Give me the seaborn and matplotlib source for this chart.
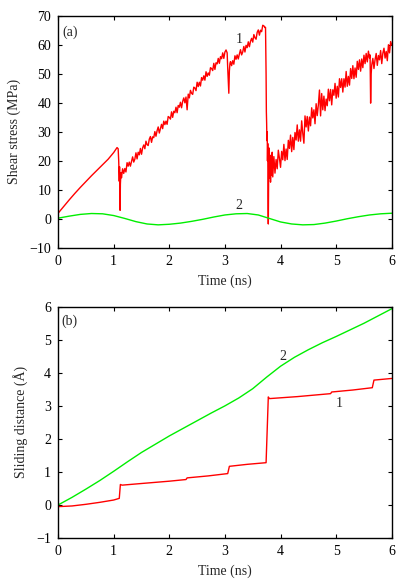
import matplotlib
matplotlib.use('Agg')
import matplotlib.pyplot as plt
import seaborn as sns
import numpy as np
import pandas as pd

# ---- panel (a): shear stress, curve 1 (piecewise) ----
stress_t_smooth = [0.0, 0.1, 0.2, 0.3, 0.4, 0.5, 0.6, 0.7, 0.8, 0.9, 1.0, 1.06, 1.08,
                   1.09, 1.10, 1.105, 1.11, 1.115, 1.12, 1.13]
stress_smooth = [2.0, 4.3, 6.6, 8.8, 10.9, 12.9, 14.9, 16.8, 18.7, 20.6, 22.9, 24.6, 24.2,
                 20.0, 13.0, 18.0, 12.0, 3.0, 12.0, 16.0]

# noisy ramp 1.14 -> 3.04 ns, step 0.02
stress_ramp1 = [14.2, 17.3, 15.7, 17.4, 16.2, 19.4, 18.2, 19.6, 18.2, 19.8, 21.4, 19.6, 20.6,
                22.8, 20.7, 23.0, 22.1, 24.3, 22.3, 24.5, 25.5, 24.2, 26.8, 25.6, 25.3, 27.5,
                28.4, 26.4, 28.3, 28.0, 30.1, 28.5, 30.4, 31.7, 29.6, 31.1, 32.6, 31.1, 33.7,
                32.5, 33.7, 32.6, 35.3, 35.0, 34.4, 36.9, 35.0, 37.1, 36.6, 38.5, 36.6, 39.1,
                38.5, 40.2, 38.3, 40.5, 41.7, 40.0, 42.0, 37.6, 43.0, 41.7, 44.3, 43.3, 42.9,
                45.4, 45.1, 44.2, 47.1, 45.6, 47.1, 45.8, 48.7, 47.8, 49.3, 47.8, 50.7, 49.1,
                50.3, 49.5, 52.1, 51.8, 51.1, 53.6, 51.5, 53.8, 53.4, 55.3, 53.6, 55.9, 55.2,
                57.2, 55.3, 57.5, 58.2, 57.2]

stress_t_slip1 = [3.05, 3.06, 3.07, 3.08, 3.09]
stress_slip1 = [52.0, 48.0, 43.3, 51.0, 53.5]

# noisy ramp 3.10 -> 3.72 ns
stress_ramp2 = [54.2, 52.8, 54.5, 53.3, 56.2, 55.0, 56.5, 55.1, 56.8, 58.3, 56.5, 57.5, 59.4,
                57.5, 59.8, 59.0, 61.0, 59.3, 61.2, 62.2, 60.9, 63.5, 62.4, 61.9, 64.3, 65.1,
                63.3, 65.0, 64.5, 66.7, 66.5, 65.9]

stress_t_slip2 = [3.73, 3.74, 3.745, 3.75, 3.755, 3.76, 3.765, 3.77, 3.775, 3.78, 3.785, 3.79,
                  3.80, 3.81, 3.82, 3.83, 3.84, 3.85, 3.86]
stress_slip2 = [66.0, 50.0, 37.0, 33.0, 27.0, 30.0, 20.0, 26.0, 8.0, -1.7, 12.0, 24.5,
                14.0, 22.0, 12.7, 21.0, 15.0, 23.0, 14.5]

# noisy ramp 3.88 -> 5.60 ns
stress_ramp3 = [21.5, 15.8, 20.5, 17.3, 23.7, 20.9, 17.8, 23.3, 20.4, 25.7, 20.1, 24.1, 20.5,
                27.1, 24.3, 28.9, 23.2, 28.1, 23.9, 29.8, 27.2, 32.4, 26.8, 30.7, 26.8, 33.8,
                29.5, 26.1, 35.5, 31.7, 35.3, 30.3, 35.1, 32.1, 38.3, 34.8, 37.6, 32.8, 39.7,
                35.6, 39.3, 44.4, 35.5, 43.2, 37.6, 42.3, 37.3, 41.3, 39.0, 44.7, 40.7, 44.6,
                39.3, 44.5, 42.6, 46.7, 41.6, 45.7, 42.0, 48.3, 45.3, 48.3, 43.7, 48.3, 45.4,
                50.8, 45.7, 49.1, 46.1, 51.8, 48.4, 52.8, 48.3, 52.0, 48.8, 54.3, 51.5, 54.8,
                50.9, 55.1, 52.1, 56.4, 53.5, 57.0, 54.1, 57.8, 55.4]

stress_t_slip3 = [5.61, 5.62, 5.63, 5.64]
stress_slip3 = [56.5, 39.9, 50.0, 53.0]

# noisy ramp 5.66 -> 6.00 ns
stress_ramp4 = [55.3, 51.8, 54.9, 57.0, 52.9, 56.3, 54.8, 58.0, 53.5, 57.1, 58.8, 55.4, 57.7,
                54.5, 60.0, 57.2, 61.1, 59.8]

# ---- panel (a): curve 2 ----
stress2_t = [0.0, 0.2, 0.4, 0.6, 0.8, 1.0, 1.2, 1.4, 1.6, 1.8, 2.0, 2.2, 2.4, 2.6, 2.8, 3.0,
             3.2, 3.4, 3.6, 3.8, 4.0, 4.2, 4.4, 4.6, 4.8, 5.0, 5.2, 5.4, 5.6, 5.8, 6.0]
stress2 = [0.3, 1.0, 1.6, 1.9, 1.8, 1.2, 0.2, -0.9, -1.7, -2.0, -1.8, -1.4, -0.8, -0.1, 0.7,
           1.4, 1.8, 1.9, 1.4, 0.2, -1.0, -1.7, -2.0, -1.9, -1.4, -0.7, 0.1, 0.8, 1.4, 1.8, 2.0]

# ---- panel (b): sliding distance ----
slide1_t = [0.0, 0.25, 0.5, 0.75, 1.0, 1.1, 1.12, 1.15, 1.5, 2.0, 2.3, 2.32, 2.7, 3.05, 3.08,
            3.4, 3.74, 3.78, 3.8, 4.3, 4.9, 4.92, 5.3, 5.65, 5.68, 6.0]
slide1 = [-0.05, -0.03, 0.02, 0.08, 0.15, 0.2, 0.62, 0.6, 0.65, 0.72, 0.77, 0.82, 0.88, 0.95,
          1.17, 1.23, 1.28, 3.27, 3.22, 3.28, 3.37, 3.42, 3.48, 3.55, 3.78, 3.83]

slide2_t = [0.0, 0.25, 0.5, 0.75, 1.0, 1.25, 1.5, 1.75, 2.0, 2.25, 2.5, 2.75, 3.0, 3.25, 3.5,
            3.75, 4.0, 4.25, 4.5, 4.75, 5.0, 5.25, 5.5, 5.75, 6.0]
slide2 = [0.0, 0.23, 0.48, 0.74, 1.02, 1.31, 1.59, 1.84, 2.09, 2.32, 2.55, 2.78, 3.0, 3.24,
          3.52, 3.87, 4.2, 4.47, 4.7, 4.91, 5.1, 5.3, 5.5, 5.72, 5.94]

time_ticks = [0, 1, 2, 3, 4, 5, 6]
stress_ticks = [-10, 0, 10, 20, 30, 40, 50, 60, 70]
slide_ticks = [-1, 0, 1, 2, 3, 4, 5, 6]

# assemble curve 1 of panel (a)
stress_t = np.concatenate([
    stress_t_smooth,
    np.linspace(1.14, 3.04, len(stress_ramp1)),
    stress_t_slip1,
    np.linspace(3.10, 3.72, len(stress_ramp2)),
    stress_t_slip2,
    np.linspace(3.88, 5.60, len(stress_ramp3)),
    stress_t_slip3,
    np.linspace(5.66, 6.00, len(stress_ramp4)),
])
stress1 = np.concatenate([stress_smooth, stress_ramp1, stress_slip1, stress_ramp2,
                          stress_slip2, stress_ramp3, stress_slip3, stress_ramp4])
df1 = pd.DataFrame({'t': stress_t, 's': stress1})

sns.set_theme(style='ticks')
plt.rcParams['font.family'] = ['Liberation Serif', 'DejaVu Serif']

RED = '#ff0000'
GREEN = '#00ee00'
FS = 10

fig = plt.figure(figsize=(4.15, 5.81), dpi=100)
ax1 = fig.add_axes([0.140, 0.573, 0.804, 0.400])
ax2 = fig.add_axes([0.140, 0.074, 0.804, 0.398])

sns.lineplot(data=df1, x='t', y='s', ax=ax1, color=RED, lw=1.0, estimator=None, sort=False)
sns.lineplot(x=stress2_t, y=stress2, ax=ax1, color=GREEN, lw=1.0, estimator=None)
ax1.set_xlim(0, 6)
ax1.set_ylim(-10, 70)
ax1.set_yticks(stress_ticks)
ax1.set_ylabel('Shear stress (MPa)', fontsize=FS, labelpad=6)
ax1.text(0.21, 64.3, '(a)', fontsize=FS, ha='center', va='center')
ax1.text(3.25, 61.8, '1', fontsize=FS, ha='center', va='center')
ax1.text(3.25, 4.8, '2', fontsize=FS, ha='center', va='center')

sns.lineplot(x=slide1_t, y=slide1, ax=ax2, color=RED, lw=1.0, estimator=None)
sns.lineplot(x=slide2_t, y=slide2, ax=ax2, color=GREEN, lw=1.0, estimator=None)
ax2.set_xlim(0, 6)
ax2.set_ylim(-1, 6)
ax2.set_yticks(slide_ticks)
ax2.set_ylabel('Sliding distance (\u00c5)', fontsize=FS, labelpad=6)
ax2.text(0.21, 5.55, '(b)', fontsize=FS, ha='center', va='center')
ax2.text(4.05, 4.48, '2', fontsize=FS, ha='center', va='center')
ax2.text(5.05, 3.08, '1', fontsize=FS, ha='center', va='center')

for ax in (ax1, ax2):
    ax.set_xticks(time_ticks)
    ax.set_xlabel('Time (ns)', fontsize=FS, labelpad=5)
    ax.tick_params(direction='in', top=True, right=True, length=3, width=0.8,
                   labelsize=FS, pad=5, colors='black')
    for sp in ax.spines.values():
        sp.set_visible(True)
        sp.set_linewidth(1.0)
        sp.set_color('black')

fig.savefig('out.png', dpi=100)
